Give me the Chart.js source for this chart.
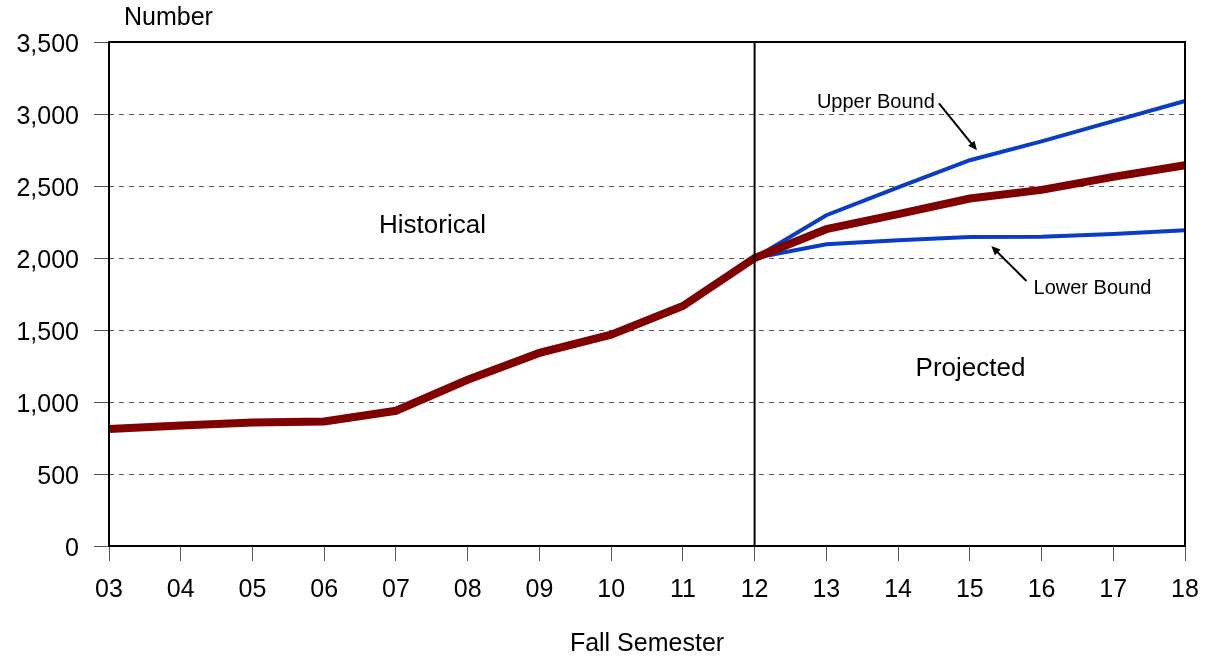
<!DOCTYPE html>
<html>
<head>
<meta charset="utf-8">
<script src="https://cdn.jsdelivr.net/npm/chart.js@4/dist/chart.umd.min.js"></script>
<style>
  body { margin: 0; background: #fff; }
  #wrap { width: 1206px; height: 659px; position: relative; }
</style>
</head>
<body>
<div id="wrap"><canvas id="main-chart"></canvas></div>
<script>
// values
const years = ['03', '04', '05', '06', '07', '08', '09', '10', '11', '12', '13', '14', '15', '16', '17', '18'];
const enrollment = [812, 836, 858, 865, 939, 1154, 1341, 1468, 1667, 2000, 2200, 2305, 2413, 2473, 2563, 2644];
const upperBound = [null, null, null, null, null, null, null, null, null, 2000, 2297, 2491, 2679, 2810, 2951, 3090];
const lowerBound = [null, null, null, null, null, null, null, null, null, 2000, 2096, 2124, 2145, 2147, 2166, 2193];
const yTicks = [0, 500, 1000, 1500, 2000, 2500, 3000, 3500];

const FONT = '"Liberation Sans", Arial, sans-serif';

// text and arrows placed in data space (x = category index, y = value)
const notes = [
    { text: 'Historical', x: 4.51, y: 2221, size: 26 },
    { text: 'Projected', x: 12.01, y: 1230, size: 26 },
    { text: 'Upper Bound', x: 10.69, y: 3080, size: 20 },
    { text: 'Lower Bound', x: 13.71, y: 1790, size: 20 }
];
const arrows = [
    { x1: 11.57, y1: 3074, x2: 12.10, y2: 2748 },
    { x1: 12.79, y1: 1840, x2: 12.30, y2: 2083 }
];

const decorations = {
    id: 'decorations',
    afterDatasetsDraw(chart) {
        const c = chart.ctx, a = chart.chartArea;
        const xs = chart.scales.x, ys = chart.scales.y;
        c.save();
        c.strokeStyle = '#000';
        c.lineWidth = 2;
        c.strokeRect(a.left, a.top, a.right - a.left, a.bottom - a.top);
        // divider between historical and projected
        let xd = xs.getPixelForValue(years.indexOf('12'));
        c.beginPath();
        c.moveTo(xd, a.top);
        c.lineTo(xd, a.bottom);
        c.stroke();

        c.fillStyle = '#000';
        c.textAlign = 'center';
        c.textBaseline = 'middle';
        notes.forEach(n => {
            c.font = n.size + 'px ' + FONT;
            c.fillText(n.text, xs.getPixelForValue(n.x), ys.getPixelForValue(n.y));
        });

        c.lineWidth = 2;
        arrows.forEach(ar => {
            let x1 = xs.getPixelForValue(ar.x1), y1 = ys.getPixelForValue(ar.y1);
            let x2 = xs.getPixelForValue(ar.x2), y2 = ys.getPixelForValue(ar.y2);
            let ang = Math.atan2(y2 - y1, x2 - x1);
            let hl = 9, hw = 4;
            c.beginPath();
            c.moveTo(x1, y1);
            c.lineTo(x2 - Math.cos(ang) * hl * 0.6, y2 - Math.sin(ang) * hl * 0.6);
            c.stroke();
            c.beginPath();
            c.moveTo(x2, y2);
            c.lineTo(x2 - Math.cos(ang) * hl + Math.sin(ang) * hw, y2 - Math.sin(ang) * hl - Math.cos(ang) * hw);
            c.lineTo(x2 - Math.cos(ang) * hl - Math.sin(ang) * hw, y2 - Math.sin(ang) * hl + Math.cos(ang) * hw);
            c.closePath();
            c.fill();
        });

        c.font = '25px ' + FONT;
        c.textAlign = 'left';
        c.fillText('Number', a.left + 15, a.top - 24);
        c.restore();
    }
};

let myChart = new Chart(document.getElementById('main-chart'), {
    type: 'line',
    data: {
        labels: years,
        datasets: [
            {
                label: 'Enrollment',
                data: enrollment,
                borderColor: '#800000',
                borderWidth: 8,
                pointRadius: 0,
                tension: 0
            },
            {
                label: 'Upper Bound',
                data: upperBound,
                borderColor: '#0a3cc4',
                borderWidth: 4,
                pointRadius: 0,
                tension: 0
            },
            {
                label: 'Lower Bound',
                data: lowerBound,
                borderColor: '#0a3cc4',
                borderWidth: 4,
                pointRadius: 0,
                tension: 0
            }
        ]
    },
    options: {
        responsive: true,
        maintainAspectRatio: false,
        animation: false,
        layout: { padding: { top: 42, right: 21, left: 0, bottom: 0 } },
        plugins: {
            legend: { display: false },
            tooltip: { enabled: false }
        },
        scales: {
            x: {
                offset: false,
                grid: { drawOnChartArea: false, drawTicks: true, tickLength: 15, color: '#555', tickColor: '#555' },
                border: { display: false },
                ticks: { color: '#000', font: { family: FONT, size: 25 }, padding: 14, maxRotation: 0, autoSkip: false },
                title: { display: true, text: 'Fall Semester', color: '#000', font: { family: FONT, size: 25 }, padding: { top: 0, bottom: 0 } },
                afterFit(scale) {
                    scale.height = 113;
                    scale.paddingLeft = 0;
                    scale.paddingRight = 0;
                }
            },
            y: {
                min: 0,
                max: 3500,
                afterBuildTicks(scale) { scale.ticks = yTicks.map(v => ({ value: v })); },
                grid: { color: '#5a5a5a', lineWidth: 1, tickLength: 15, tickColor: '#555', tickBorderDash: [] },
                border: { display: false, dash: [5, 5] },
                ticks: {
                    color: '#000',
                    font: { family: FONT, size: 25 },
                    padding: 15,
                    labelOffset: 3,
                    callback: v => v.toLocaleString('en-US')
                },
                afterFit(scale) {
                    scale.width = 109;
                    scale.paddingTop = 0;
                    scale.paddingBottom = 0;
                }
            }
        }
    },
    plugins: [decorations]
});
</script>
</body>
</html>
